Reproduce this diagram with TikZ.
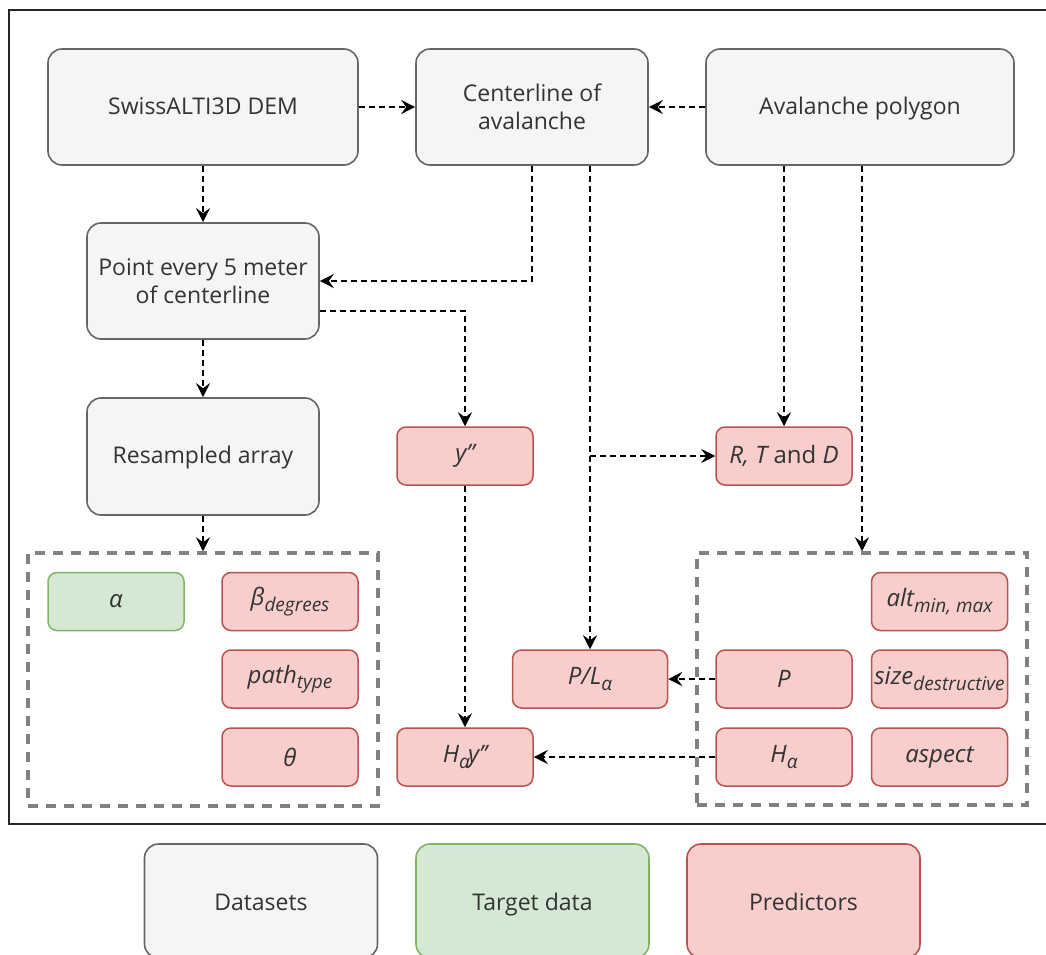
\documentclass[tikz,border=0pt]{standalone}
\usepackage{fontspec}
\setmainfont{Open Sans}
\usetikzlibrary{arrows.meta}

\definecolor{txt}{HTML}{333333}
\definecolor{dsfill}{HTML}{F5F5F5}
\definecolor{dsline}{HTML}{666666}
\definecolor{tgfill}{HTML}{D5E8D4}
\definecolor{tgline}{HTML}{82B366}
\definecolor{prfill}{HTML}{F8CECC}
\definecolor{prline}{HTML}{B85450}
\definecolor{grpline}{HTML}{808080}

% lowered, smaller text for index parts of the labels
\newcommand{\idx}[1]{\raisebox{-5.5pt}{\fontsize{19}{19}\selectfont #1}}
\newcommand{\dprime}{\symbol{39}\symbol{39}}

\tikzset{
  base/.style={rounded corners=14pt, line width=1.6pt, align=center,
    text=txt, font=\fontsize{23}{28}\selectfont, inner sep=1pt},
  oneline/.style={text height=18pt, text depth=4pt},
  dataset/.style={base, fill=dsfill, draw=dsline},
  bigbox/.style={dataset, minimum width=310pt, minimum height=116pt},
  midbox/.style={dataset, minimum width=232pt, minimum height=116pt},
  small/.style={rounded corners=9pt, line width=1.5pt, align=center,
    text=txt, font=\fontsize{24}{28}\selectfont\itshape, inner sep=0pt,
    minimum width=136pt, minimum height=58pt},
  pred/.style={small, fill=prfill, draw=prline},
  target/.style={small, fill=tgfill, draw=tgline},
  legend/.style={base, text height=22pt, text depth=4pt,
    minimum width=233pt, minimum height=114pt,
    font=\fontsize{23}{28}\selectfont},
  group/.style={draw=grpline, line width=3.5pt, dash pattern=on 10pt off 8pt},
  flow/.style={line width=1.6pt, dash pattern=on 6pt off 4pt,
    -{Stealth[length=14pt, width=14pt, inset=5pt]}},
}

\begin{document}
\begin{tikzpicture}[x=1pt, y=-1pt]
\useasboundingbox (0,0) rectangle (1046,955);

% outer frame (its right side runs past the page edge)
\draw[line width=2pt, draw=black!85] (9,10) rectangle (1060,824);

% dashed groups
\node[group, minimum width=350pt, minimum height=253pt] (gl) at (203,679.5) {};
\node[group, minimum width=330pt, minimum height=252pt] (gr) at (862,679) {};

% data sets
\node[bigbox, oneline] (dem)  at (203,107) {SwissALTI3D DEM};
\node[midbox] (cl)   at (532,107) {Centerline of\\avalanche};
\node[bigbox, oneline, minimum width=308pt] (poly) at (860,107) {Avalanche polygon};
\node[midbox] (pt)   at (203,281) {Point every 5 meter\\of centerline};
\node[midbox, oneline, minimum height=117pt] (res) at (203,456.5) {Resampled array};

% predictors and target
\node[pred] (yy)  at (465,456) {y\dprime};
\node[pred] (rtd) at (784,456) {R, T \upshape and \itshape D};
\node[pred, minimum width=155pt] (plr) at (590,679) {P/L\idx{α}};
\node[pred] (hay) at (465,757) {H\idx{α}\kern-2pt y\dprime};

\node[target] (alpha) at (116,601.5) {α};
\node[pred] (beta)  at (290,601.5) {β\idx{degrees}};
\node[pred] (path)  at (290,679) {path\idx{type}};
\node[pred] (theta) at (290,757) {θ};

\node[pred] (alt)  at (939.5,601.5) {alt\idx{min, max}};
\node[pred] (pp)   at (784,679) {P};
\node[pred] (size) at (939.5,679) {size\idx{destructive}};
\node[pred] (ha)   at (784,757) {H\idx{α}};
\node[pred] (asp)  at (939.5,757) {aspect};

% connectors
\draw[flow] (dem.east) -- (cl.west);
\draw[flow] (poly.west) -- (cl.east);
\draw[flow] (dem.south) -- (pt.north);
\draw[flow] (cl.south) |- (pt.east);
\draw[flow] ([yshift=-30pt]pt.east) -| (yy.north);
\draw[flow] (pt.south) -- (res.north);
\draw[flow] (res.south) -- (gl.north);
\draw[flow] (plr.north |- cl.south) -- (plr.north);
\coordinate (split) at (plr.north |- rtd.west);
\draw[flow] (split) -- (rtd.west);
\draw[flow] (rtd.north |- poly.south) -- (rtd.north);
\draw[flow] (gr.north |- poly.south) -- (gr.north);
\draw[flow] (yy.south) -- (hay.north);
\draw[flow] (pp.west) -- (plr.east);
\draw[flow] (ha.west) -- (hay.east);

% legend
\node[legend, fill=dsfill, draw=dsline] (lgd) at (261,901) {Datasets};
\node[legend, fill=tgfill, draw=tgline] (lgt) at (532.5,901) {Target data};
\node[legend, fill=prfill, draw=prline] (lgp) at (803.5,901) {Predictors};
\end{tikzpicture}
\end{document}
